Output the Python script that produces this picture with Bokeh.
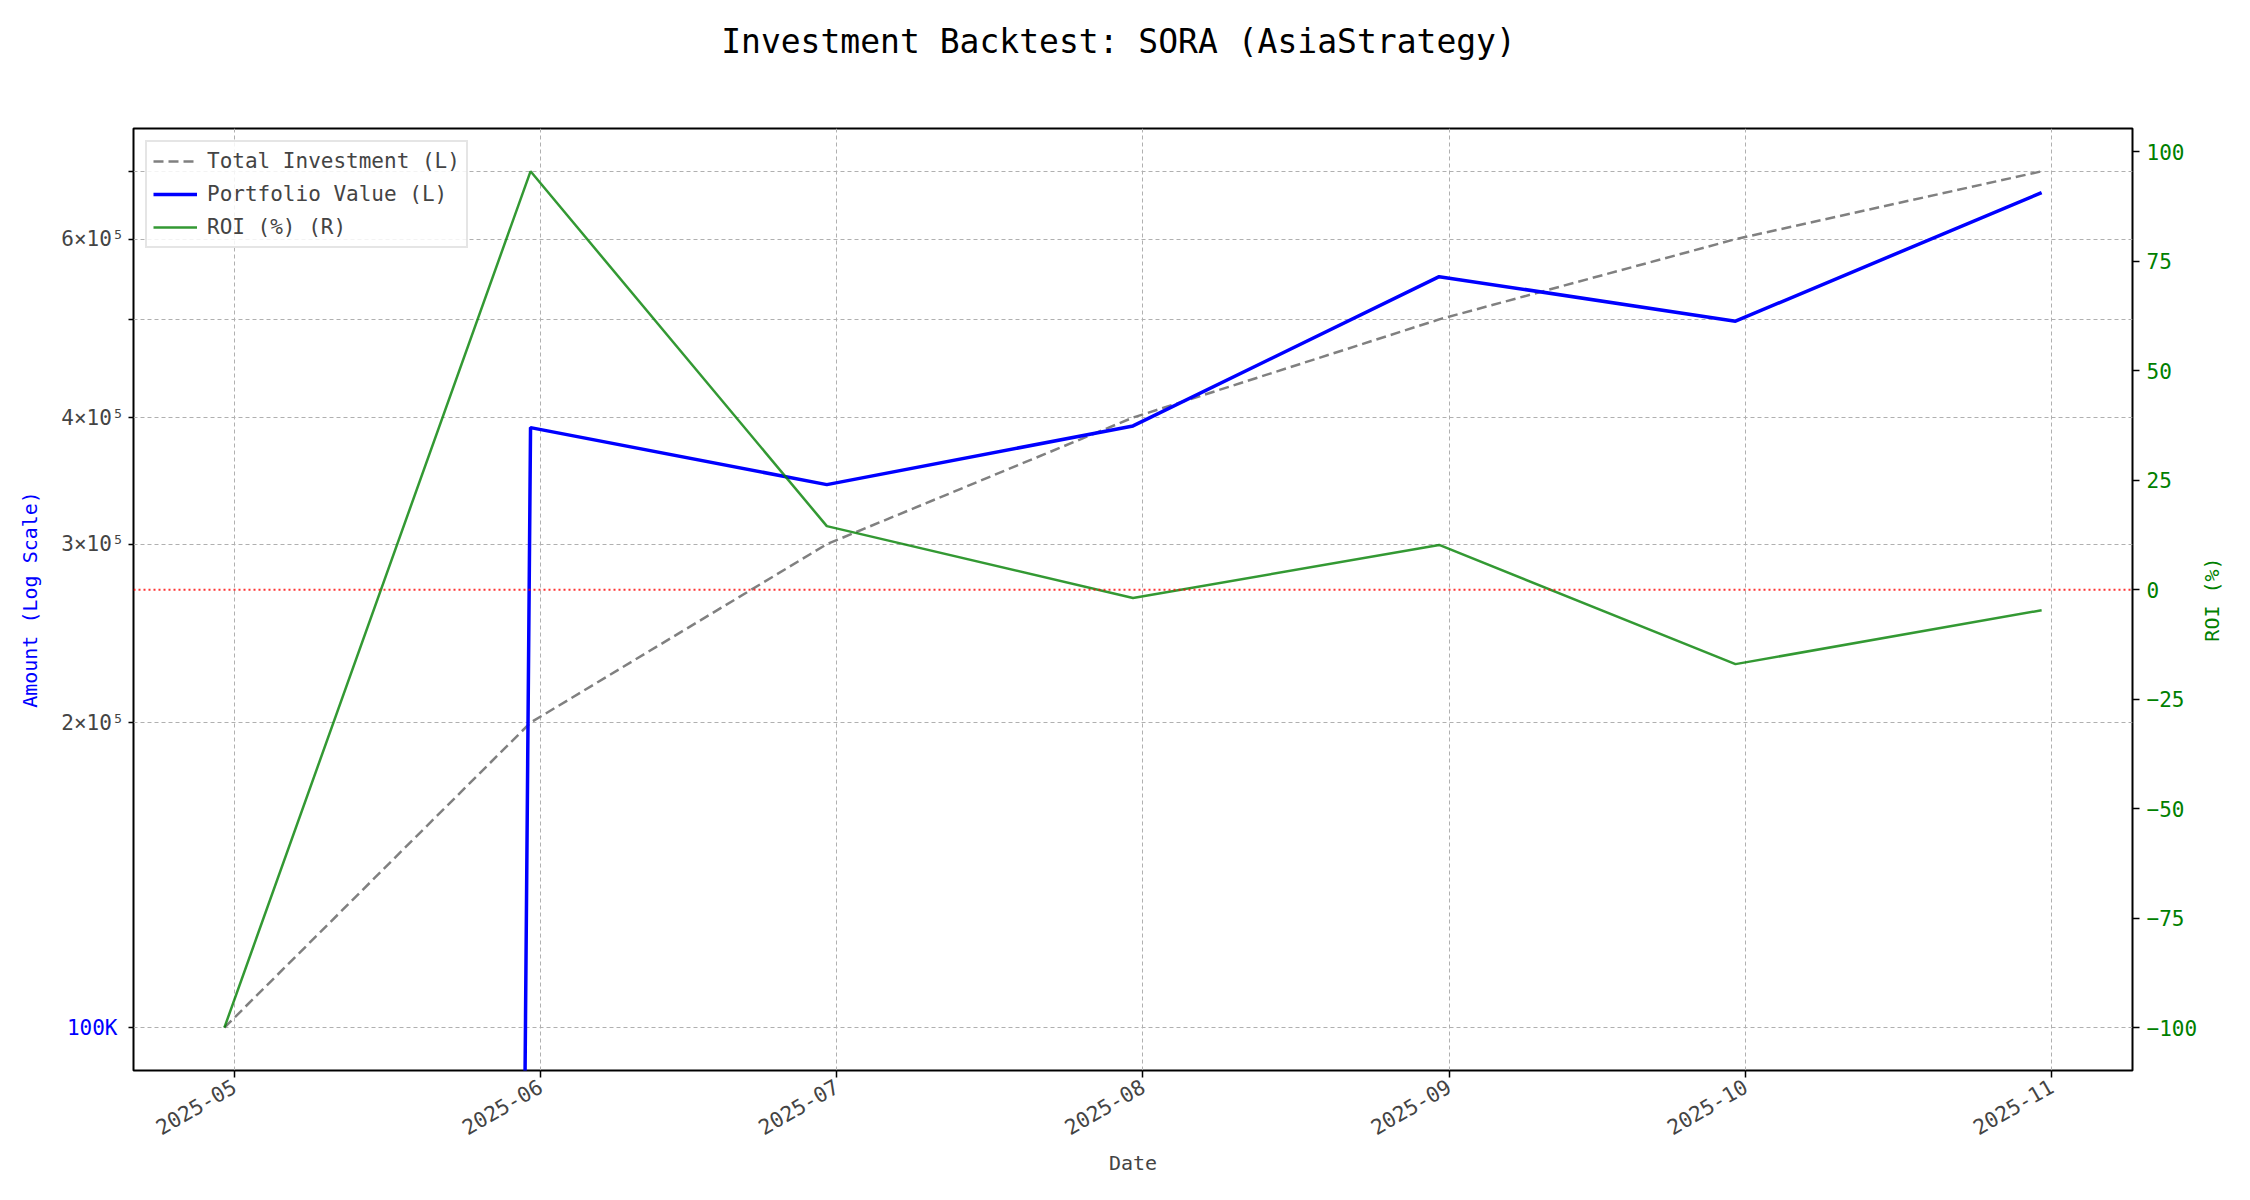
import numpy as np
import pandas as pd
from bokeh.plotting import figure
from bokeh.models import (LinearAxis, Range1d, FixedTicker, LinearScale, Legend, LegendItem,
                          Span, Label, DatetimeTickFormatter)
from bokeh.embed import file_html
from bokeh.resources import INLINE

# ---- data ----
dates = ["2025-04-30", "2025-05-31", "2025-06-30", "2025-07-31", "2025-08-31", "2025-09-30", "2025-10-31"]
total_investment = [100000, 200000, 300000, 400000, 500000, 600000, 700000]
portfolio_value = [0, 391000, 343500, 392500, 551000, 498000, 667000]
roi_pct = [-100.0, 95.5, 14.5, -1.9, 10.2, -17.0, -4.7]

x_tick_labels = ["2025-05", "2025-06", "2025-07", "2025-08", "2025-09", "2025-10", "2025-11"]
major_left_ticks = [100000]
major_left_labels = ["100K"]
minor_left_ticks = [200000, 300000, 400000, 500000, 600000, 700000]
minor_left_labels = ["2×10⁵", "3×10⁵", "4×10⁵", "", "6×10⁵", ""]
roi_ticks = [-100, -75, -50, -25, 0, 25, 50, 75, 100]
TITLE = "Investment Backtest: SORA (AsiaStrategy)"

FONT = "DejaVu Sans Mono"
W, H = 2234, 1184
BL, BR, BT, BB = 133, 102, 128, 114
FRAME_H = H - BT - BB

x = pd.to_datetime(dates)
xt = pd.to_datetime([s + "-01" for s in x_tick_labels])
xt_ms = [float(t.value // 10**6) for t in xt]

# ranges (5% margins like matplotlib)
span = x.max() - x.min()
x_range = Range1d(x.min() - span * 0.05, x.max() + span * 0.05)
pv_pos = [v for v in portfolio_value if v > 0]
lo = np.log10(min(min(total_investment), min(pv_pos)))
hi = np.log10(max(max(total_investment), max(pv_pos)))
pad = (hi - lo) * 0.05
ylo, yhi = lo - pad, hi + pad
y_range = Range1d(10 ** ylo, 10 ** yhi)
rlo, rhi = min(roi_pct), max(roi_pct)
rpad = (rhi - rlo) * 0.05

p = figure(width=W, height=H, x_axis_type="datetime", y_axis_type="log",
           x_range=x_range, y_range=y_range, output_backend="svg", toolbar_location=None,
           min_border_left=BL, min_border_right=BR, min_border_top=BT, min_border_bottom=BB)
p.extra_y_ranges = {"roi": Range1d(rlo - rpad, rhi + rpad)}
p.extra_y_scales = {"roi": LinearScale()}
p.title_location = None

p.outline_line_color = "black"
p.outline_line_width = 2
p.outline_line_alpha = 1

# grids
p.ygrid.ticker = FixedTicker(ticks=major_left_ticks + minor_left_ticks)
for g in (p.xgrid, p.ygrid):
    g.grid_line_color = "#b0b0b0"
    g.grid_line_dash = "4 3"
    g.grid_line_width = 1

# x axis
xa = p.xaxis[0]
xa.ticker = FixedTicker(ticks=xt_ms)
xa.formatter = DatetimeTickFormatter(months="%Y-%m", days="%Y-%m", years="%Y-%m",
                                     hours="%Y-%m", minutes="%Y-%m")
xa.major_label_orientation = np.pi / 6
xa.axis_label = "Date"

# left axis (log "minor" ticks with black labels; the 100K major label is added below)
ya = p.yaxis[0]
ya.ticker = FixedTicker(ticks=major_left_ticks + minor_left_ticks)
ya.major_label_overrides = {t: l for t, l in zip(major_left_ticks + minor_left_ticks,
                                                 [""] * len(major_left_ticks) + minor_left_labels)}
ya.axis_label = "Amount (Log Scale)"
ya.axis_label_text_color = "blue"

# right axis
ra = LinearAxis(y_range_name="roi", ticker=FixedTicker(ticks=roi_ticks))
ra.major_label_text_color = "green"
p.add_layout(ra, "right")

for ax in (xa, ya, ra):
    ax.axis_line_color = None
    ax.major_tick_in = 0
    ax.major_tick_out = 7
    ax.major_tick_line_width = 1.5
    ax.minor_tick_line_color = None
    ax.major_label_text_font = FONT
    ax.major_label_text_font_size = "21px"
    ax.axis_label_text_font = FONT
    ax.axis_label_text_font_size = "20px"
    ax.axis_label_text_font_style = "normal"
    ax.major_label_standoff = 7
ya.major_tick_out = 5
ya.major_label_standoff = 4
ya.axis_label_standoff = 16

# blue "100K" major tick label: placed in the panel just above the frame (bottom = frame top),
# positioned from the data so it sits beside the 100K tick
above_items = []
for t, l in zip(major_left_ticks, major_left_labels):
    frac = (np.log10(t) - ylo) / (yhi - ylo)
    above_items.append(Label(x=-16, y=-(1 - frac) * FRAME_H, x_units="screen", y_units="screen",
                             text=l, text_color="blue", text_align="right", text_baseline="middle",
                             text_font=FONT, text_font_size="21px"))
# figure title, centred on the whole figure
above_items.append(Label(x=W / 2 - BL + 1, y=63, x_units="screen", y_units="screen", text=TITLE,
                         text_color="black", text_align="center", text_baseline="middle",
                         text_font=FONT, text_font_size="33px"))
p.above = above_items + list(p.above)

# right axis title, reading bottom-to-top as in the reference
p.add_layout(Label(x=11, y=FRAME_H / 2, x_units="screen", y_units="screen", text="ROI (%)",
                   angle=np.pi / 2, text_color="green", text_align="center",
                   text_baseline="middle", text_font=FONT, text_font_size="20px"), "right")

# zero ROI line
p.add_layout(Span(location=0, dimension="width", y_range_name="roi", line_color="red",
                  line_alpha=0.8, line_dash="2 3", line_width=2))

# series
pv_draw = [v if v > 0 else 1e-30 for v in portfolio_value]
r_inv = p.line(x, total_investment, line_color="gray", line_width=2.5, line_dash="10 5")
r_pv = p.line(x, pv_draw, line_color="blue", line_width=3.5)
r_roi = p.line(x, roi_pct, line_color="green", line_alpha=0.8, line_width=2.5, y_range_name="roi")

legend = Legend(items=[LegendItem(label="Total Investment (L)", renderers=[r_inv]),
                       LegendItem(label="Portfolio Value (L)", renderers=[r_pv]),
                       LegendItem(label="ROI (%) (R)", renderers=[r_roi])],
                location="top_left")
legend.label_text_font = FONT
legend.label_text_font_size = "21px"
legend.label_height = 26
legend.glyph_width = 44
legend.glyph_height = 26
legend.spacing = 7
legend.label_standoff = 10
legend.padding = 6
legend.margin = 12
legend.border_line_color = "#cccccc"
legend.border_line_width = 2
legend.background_fill_alpha = 0.85
p.add_layout(legend)

open("out.html", "w").write(file_html(p, INLINE))
